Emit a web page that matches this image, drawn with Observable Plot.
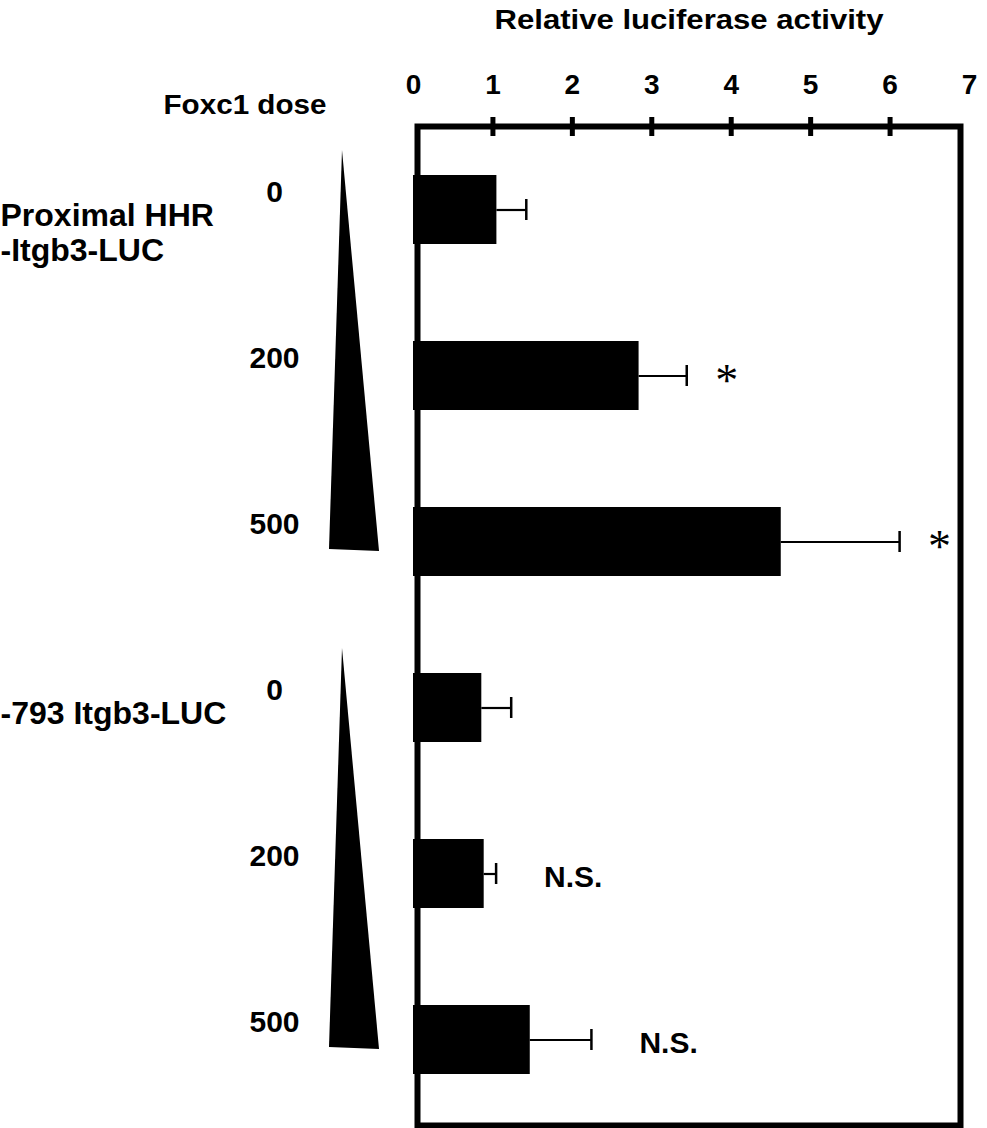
<!DOCTYPE html>
<html>
<head>
<meta charset="utf-8">
<script src="https://cdn.jsdelivr.net/npm/d3@7"></script>
<script src="https://cdn.jsdelivr.net/npm/@observablehq/plot@0.6"></script>
<style>
  body { margin: 0; background: #fff; }
  #chart svg { display: block; }
</style>
</head>
<body>
<div id="chart"></div>
<script>
// ---- data ----
const conditions = ["P0", "P200", "P500", "M0", "M200", "M500"];
const doses = ["0", "200", "500", "0", "200", "500"];
const activity = [1.05, 2.84, 4.63, 0.86, 0.89, 1.47];
const errorSE = [0.37, 0.60, 1.49, 0.37, 0.15, 0.77];
const significance = ["", "*", "*", "", "N.S.", "N.S."];
const constructLabels = ["Proximal HHR\n-Itgb3-LUC", "-793 Itgb3-LUC"];
const constructFirst = ["P0", "M0"];
const constructLast = ["P500", "M500"];
const xTicks = [0, 1, 2, 3, 4, 5, 6, 7];
const xTitle = "Relative luciferase activity";
const doseTitle = "Foxc1 dose";

const rows = conditions.map((c, i) => ({
  cond: c, dose: doses[i], value: activity[i], hi: activity[i] + errorSE[i], sig: significance[i]
}));
const constructs = constructLabels.map((l, i) => ({label: l, first: constructFirst[i], last: constructLast[i]}));

const W = 987, H = 1128;
const mL = 417, mR = 27, mT = 126, mB = 3;

// wedge (dose triangle) custom mark
function wedges(data) {
  return (index, scales, values, dims) => {
    const y = scales.y, bw = y.bandwidth ? y.bandwidth() : 0;
    const g = d3.create("svg:g");
    for (const w of data) {
      const top = y(w.first) - 25;
      const bottom = y(w.last) + bw - 26;
      const left = dims.marginLeft;
      g.append("path")
        .attr("d", `M${left - 75},${top}L${left - 38},${bottom + 1}L${left - 88},${bottom - 1}Z`)
        .attr("fill", "black");
    }
    return g.node();
  };
}

const chart = Plot.plot({
  width: W, height: H,
  marginLeft: mL, marginRight: mR, marginTop: mT, marginBottom: mB,
  style: {fontFamily: "'Liberation Sans', Arial, Helvetica, sans-serif", fontWeight: "bold", color: "black", background: "white", overflow: "visible"},
  x: {domain: [0, 7], range: [413, 969], axis: null},
  y: {domain: conditions, range: [125, 1124], paddingInner: 0.585, paddingOuter: 0.2925, axis: null},
  marks: [
    Plot.barX(rows, {x: "value", y: "cond", fill: "black"}),
    Plot.ruleY(rows, {y: "cond", x1: "value", x2: "hi", stroke: "black", strokeWidth: 2.2}),
    Plot.tickX(rows, {x: "hi", y: "cond", stroke: "black", strokeWidth: 2.5, insetTop: 24, insetBottom: 24}),
    Plot.frame({stroke: "black", strokeWidth: 6}),
    Plot.ruleX(xTicks.filter(t => t > 0 && t < 7), {x: d => d, stroke: "black", strokeWidth: 5, insetTop: -9, insetBottom: 989}),
    Plot.axisX(xTicks, {anchor: "top", tickSize: 0, tickPadding: 33, fontSize: 28, fontWeight: "bold"}),
    Plot.text([xTitle], {text: d => d, frameAnchor: "top", dy: -98, lineAnchor: "bottom", fontSize: 27, fontWeight: "bold", className: "xtitle"}),
    Plot.text([doseTitle], {text: d => d, frameAnchor: "top-left", dx: -254, dy: -13, textAnchor: "start", lineAnchor: "bottom", fontSize: 28, fontWeight: "bold", className: "dosetitle"}),
    Plot.text(rows.filter(d => d.sig === "*"), {x: "hi", y: "cond", text: "sig", dx: 40, dy: 5, fontSize: 46, fontWeight: "normal", fontFamily: "'Liberation Serif', 'Times New Roman', serif"}),
    Plot.text(rows.filter(d => d.sig === "N.S."), {x: "hi", y: "cond", text: "sig", dx: 48, dy: 3, textAnchor: "start", fontSize: 30, fontWeight: "bold"}),
    Plot.text(rows, {y: "cond", text: "dose", frameAnchor: "left", dx: -143, dy: -18, textAnchor: "middle", fontSize: 30, fontWeight: "bold"}),
    Plot.text(constructs, {y: "first", text: "label", frameAnchor: "left", dx: -417, dy: -9, textAnchor: "start", lineAnchor: "top", lineHeight: 1.1, fontSize: 32, fontWeight: "bold"}),
    wedges(constructs)
  ]
});
// stretch titles horizontally as in the original figure
d3.select(chart).selectAll(".xtitle text")
  .attr("textLength", 389).attr("lengthAdjust", "spacingAndGlyphs");
d3.select(chart).selectAll(".dosetitle text")
  .attr("textLength", 163).attr("lengthAdjust", "spacingAndGlyphs");
document.getElementById("chart").appendChild(chart);
</script>
</body>
</html>
